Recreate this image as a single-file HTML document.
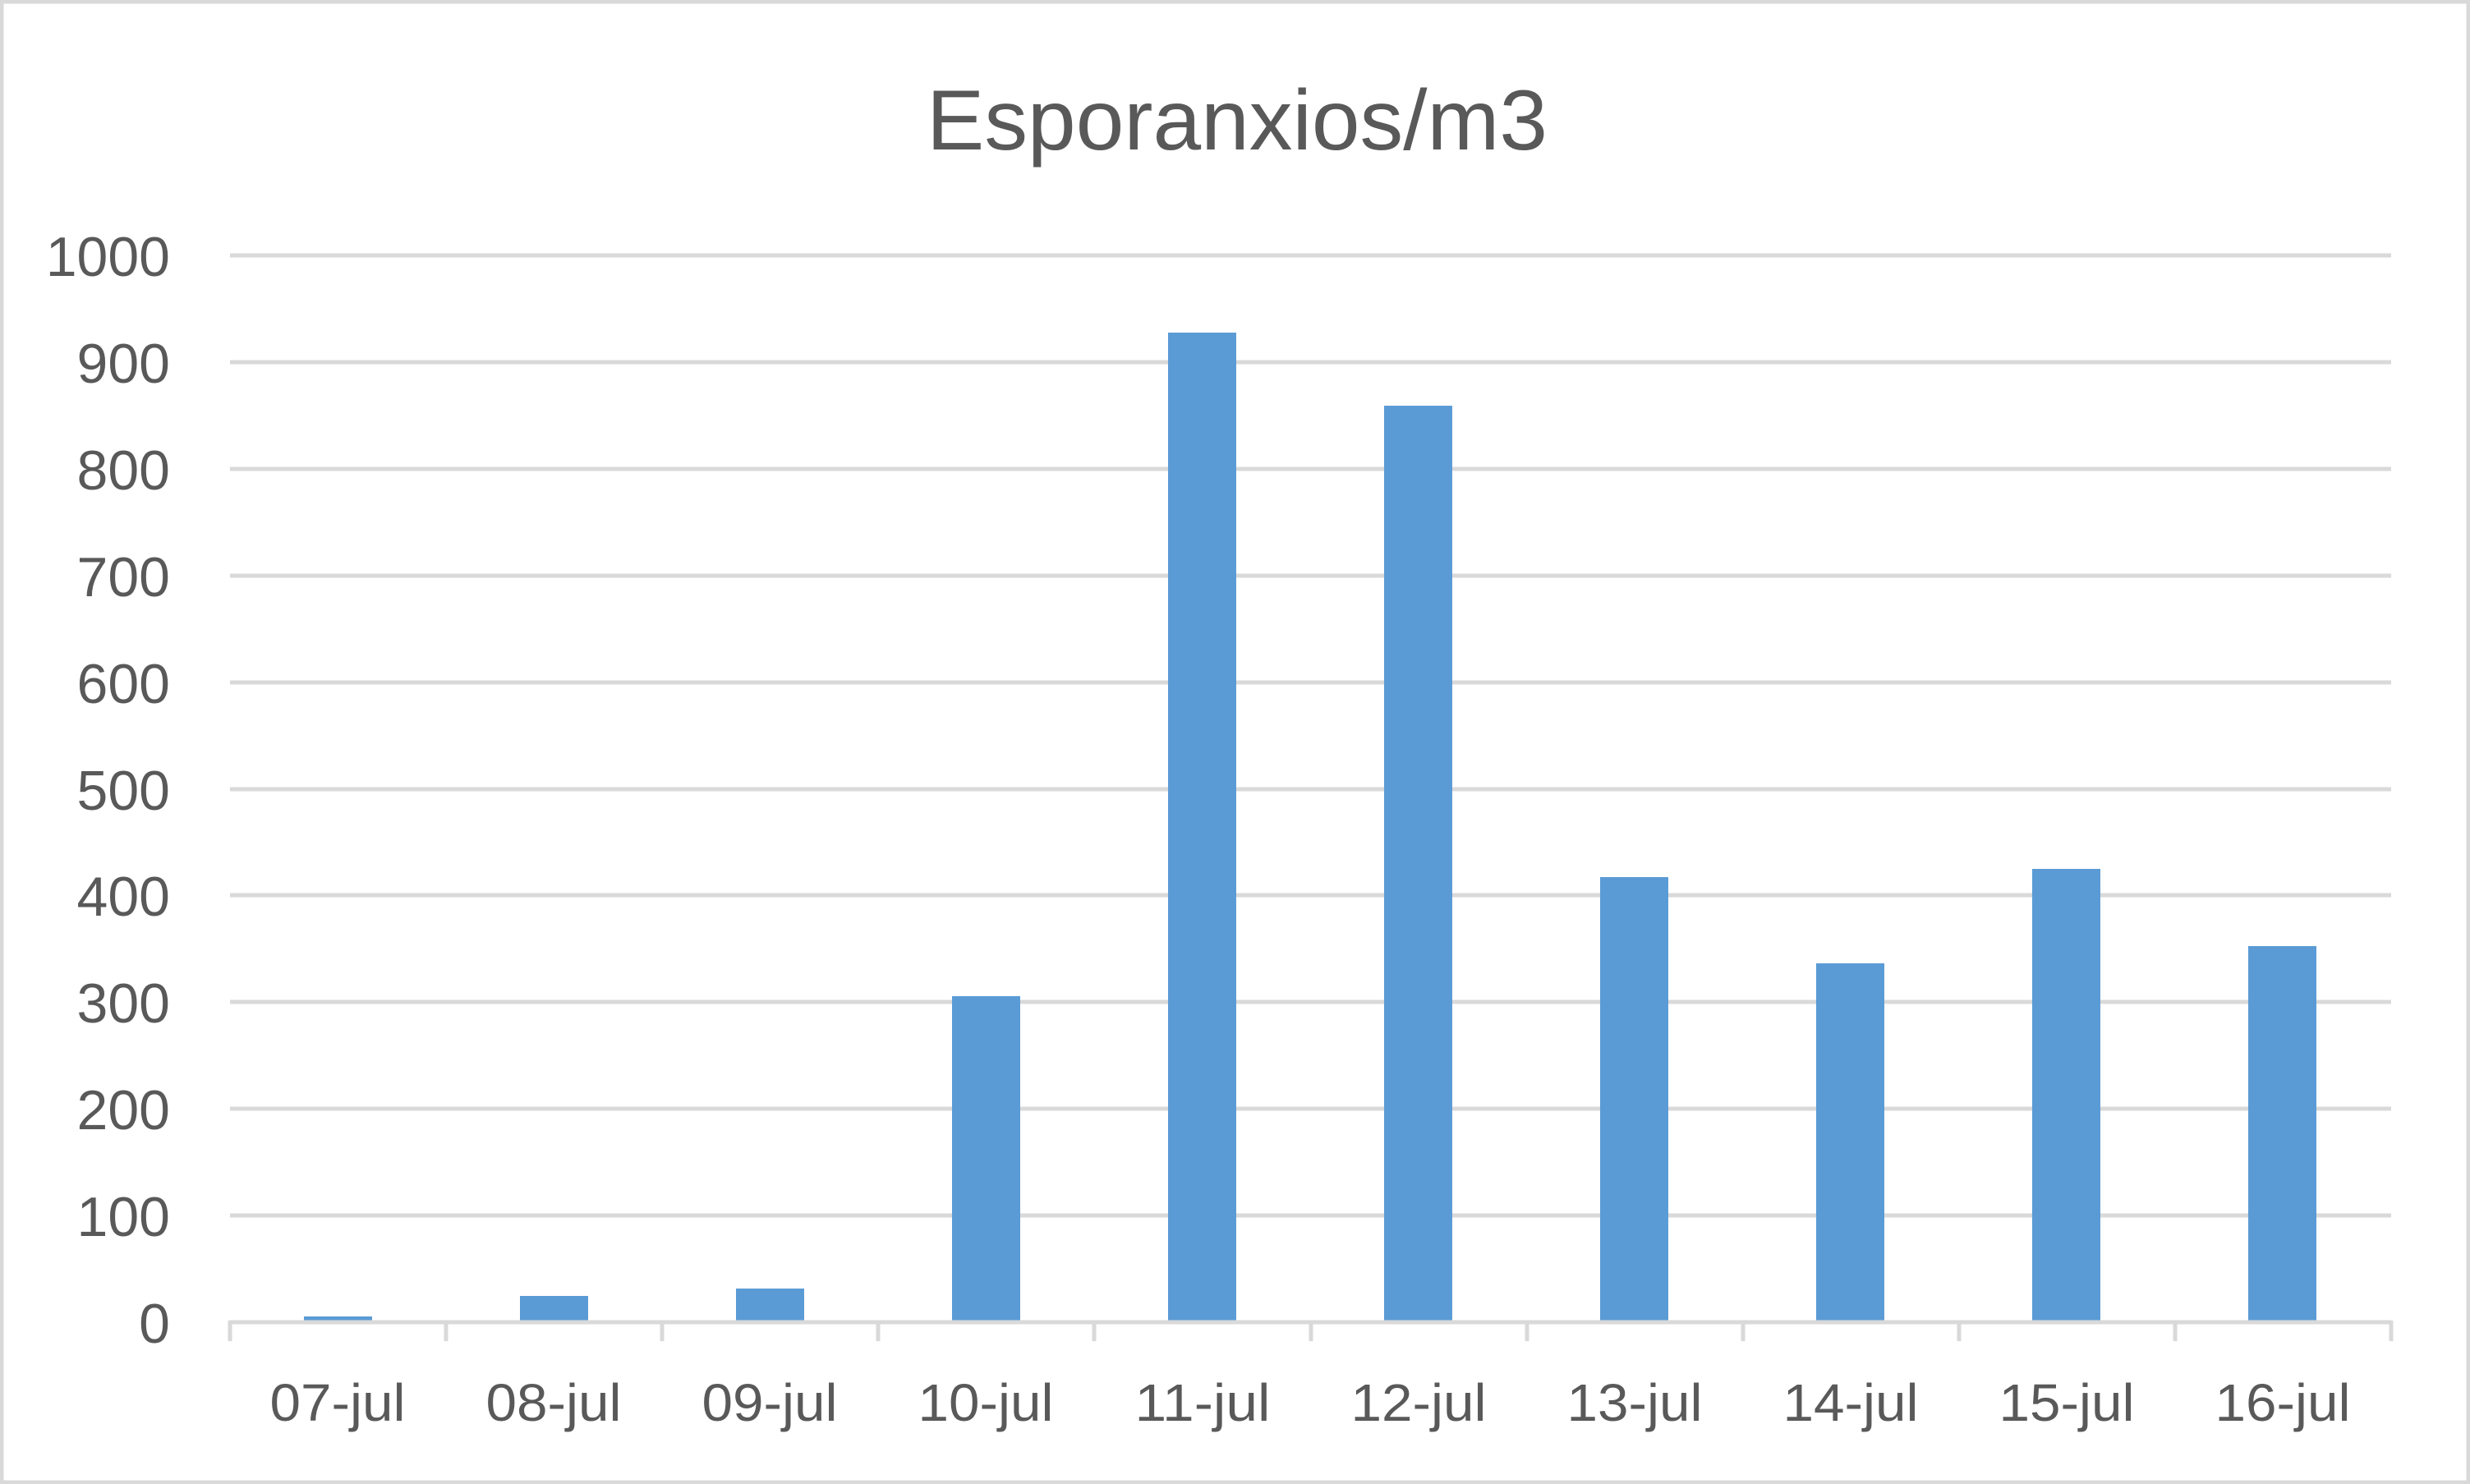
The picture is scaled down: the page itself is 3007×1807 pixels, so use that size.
<!DOCTYPE html>
<html><head><style>html,body{margin:0;padding:0;background:#fff}svg{display:block}</style></head>
<body>
<svg width="3007" height="1807" viewBox="0 0 3007 1807" xmlns="http://www.w3.org/2000/svg" font-family="'Liberation Sans', sans-serif" fill="#595959">
<rect x="2" y="2" width="3003" height="1803" fill="#fff" stroke="#d9d9d9" stroke-width="5"/>
<text x="1506" y="182" font-size="104" text-anchor="middle" textLength="756" lengthAdjust="spacingAndGlyphs">Esporanxios/m3</text>
<g stroke="#d9d9d9" stroke-width="5">
<line x1="280" x2="2911" y1="311" y2="311"/>
<line x1="280" x2="2911" y1="441" y2="441"/>
<line x1="280" x2="2911" y1="571" y2="571"/>
<line x1="280" x2="2911" y1="701" y2="701"/>
<line x1="280" x2="2911" y1="831" y2="831"/>
<line x1="280" x2="2911" y1="961" y2="961"/>
<line x1="280" x2="2911" y1="1090" y2="1090"/>
<line x1="280" x2="2911" y1="1220" y2="1220"/>
<line x1="280" x2="2911" y1="1350" y2="1350"/>
<line x1="280" x2="2911" y1="1480" y2="1480"/>
</g>
<g fill="#5b9bd5">
<rect x="370" y="1603" width="83" height="7"/>
<rect x="633" y="1578" width="83" height="32"/>
<rect x="896" y="1569" width="83" height="41"/>
<rect x="1159" y="1213" width="83" height="397"/>
<rect x="1422" y="405" width="83" height="1205"/>
<rect x="1685" y="494" width="83" height="1116"/>
<rect x="1948" y="1068" width="83" height="542"/>
<rect x="2211" y="1173" width="83" height="437"/>
<rect x="2474" y="1058" width="83" height="552"/>
<rect x="2737" y="1152" width="83" height="458"/>
</g>
<g stroke="#d9d9d9" stroke-width="5">
<line x1="280" x2="2911" y1="1610" y2="1610"/>
<line x1="280" x2="280" y1="1608" y2="1633"/>
<line x1="543" x2="543" y1="1608" y2="1633"/>
<line x1="806" x2="806" y1="1608" y2="1633"/>
<line x1="1069" x2="1069" y1="1608" y2="1633"/>
<line x1="1332" x2="1332" y1="1608" y2="1633"/>
<line x1="1596" x2="1596" y1="1608" y2="1633"/>
<line x1="1859" x2="1859" y1="1608" y2="1633"/>
<line x1="2122" x2="2122" y1="1608" y2="1633"/>
<line x1="2385" x2="2385" y1="1608" y2="1633"/>
<line x1="2648" x2="2648" y1="1608" y2="1633"/>
<line x1="2911" x2="2911" y1="1608" y2="1633"/>
</g>
<g font-size="68" text-anchor="end">
<text x="207" y="336">1000</text>
<text x="207" y="466">900</text>
<text x="207" y="596">800</text>
<text x="207" y="726">700</text>
<text x="207" y="856">600</text>
<text x="207" y="986">500</text>
<text x="207" y="1115">400</text>
<text x="207" y="1245">300</text>
<text x="207" y="1375">200</text>
<text x="207" y="1505">100</text>
<text x="207" y="1635">0</text>
</g>
<g font-size="64" text-anchor="middle">
<text x="411" y="1730" textLength="165" lengthAdjust="spacingAndGlyphs">07-jul</text>
<text x="674" y="1730" textLength="165" lengthAdjust="spacingAndGlyphs">08-jul</text>
<text x="937" y="1730" textLength="165" lengthAdjust="spacingAndGlyphs">09-jul</text>
<text x="1200" y="1730" textLength="165" lengthAdjust="spacingAndGlyphs">10-jul</text>
<text x="1464" y="1730" textLength="165" lengthAdjust="spacingAndGlyphs">11-jul</text>
<text x="1727" y="1730" textLength="165" lengthAdjust="spacingAndGlyphs">12-jul</text>
<text x="1990" y="1730" textLength="165" lengthAdjust="spacingAndGlyphs">13-jul</text>
<text x="2253" y="1730" textLength="165" lengthAdjust="spacingAndGlyphs">14-jul</text>
<text x="2516" y="1730" textLength="165" lengthAdjust="spacingAndGlyphs">15-jul</text>
<text x="2779" y="1730" textLength="165" lengthAdjust="spacingAndGlyphs">16-jul</text>
</g>
</svg>
</body></html>
